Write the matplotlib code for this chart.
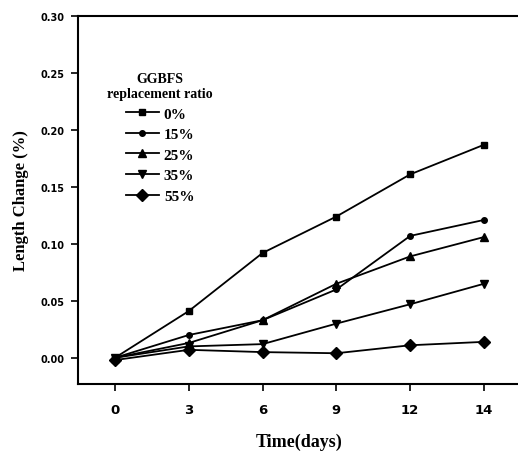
import matplotlib
matplotlib.use("Agg")
import matplotlib.pyplot as plt

days = ["0", "3", "6", "9", "12", "14"]
labels = ["0%", "15%", "25%", "35%", "55%"]
markers = ["s", "o", "^", "v", "D"]
r0 = [0.000, 0.041, 0.092, 0.124, 0.161, 0.187]
r15 = [0.000, 0.020, 0.033, 0.060, 0.107, 0.121]
r25 = [0.000, 0.013, 0.033, 0.065, 0.089, 0.106]
r35 = [0.000, 0.010, 0.012, 0.030, 0.047, 0.065]
r55 = [-0.002, 0.007, 0.005, 0.004, 0.011, 0.014]
series = [r0, r15, r25, r35, r55]

fig = plt.figure(figsize=(5.18, 4.56), dpi=100)
ax = fig.add_axes([0.1506, 0.1557, 0.855, 0.807])
x = list(range(len(days)))
sizes = [4, 4, 5.5, 6, 6]
for vals, lab, m, s in zip(series, labels, markers, sizes):
    ax.plot(x, vals, color="black", lw=1.3, marker=m, ms=s, label=lab)

ax.set_xlim(-0.5, 5.5)
ax.set_ylim(-0.023, 0.30)
ax.set_xticks(x)
ax.set_xticklabels(days)
ax.set_yticks([0.0, 0.05, 0.10, 0.15, 0.20, 0.25, 0.30])
ax.set_yticklabels(["0.00", "0.05", "0.10", "0.15", "0.20", "0.25", "0.30"])
ax.tick_params(axis="both", direction="out", length=5, width=1.2)
ax.tick_params(axis="x", pad=9)
ax.tick_params(axis="y", pad=5)
for t in ax.get_xticklabels():
    t.set_fontweight("bold")
    t.set_fontsize(9.5)
for t in ax.get_yticklabels():
    t.set_fontweight("bold")
    t.set_fontsize(7)
for sp in ax.spines.values():
    sp.set_linewidth(1.5)

ax.set_xlabel("Time(days)", family="Liberation Serif", fontweight="bold", fontsize=13, labelpad=12)
ax.set_ylabel("Length Change (%)", family="Liberation Serif", fontweight="bold", fontsize=12, labelpad=8)

leg = ax.legend(title="GGBFS\nreplacement ratio", loc="upper left", bbox_to_anchor=(0.035, 0.885),
                frameon=False, prop={"family": "Liberation Serif", "weight": "bold", "size": 11},
                handlelength=2.2, labelspacing=0.45, handletextpad=0.3)
title = leg.get_title()
title.set_fontfamily("Liberation Serif")
title.set_fontweight("bold")
title.set_fontsize(10)
title.set_multialignment("center")
leg.set_alignment("center")

fig.savefig("out.png", dpi=100)
